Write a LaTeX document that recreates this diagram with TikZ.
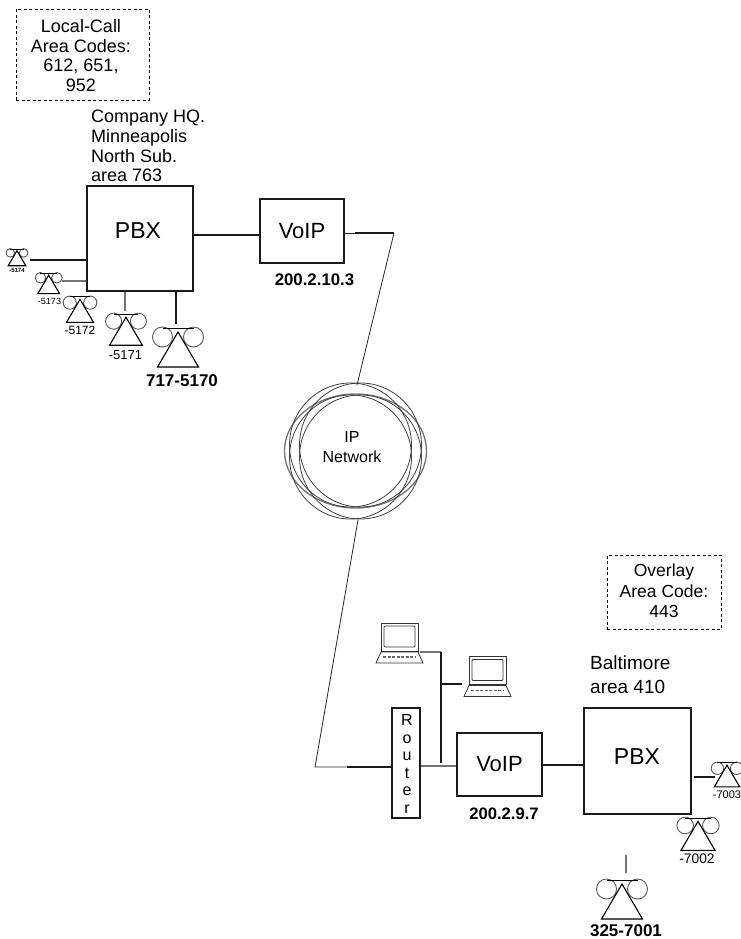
\documentclass[tikz,border=0pt]{standalone}
\usepackage{fontspec}
\setmainfont{Liberation Sans}
\newcommand{\fs}[1]{\fontsize{#1pt}{#1pt}\selectfont}
\newcommand{\fsl}[2]{\fontsize{#1pt}{#2pt}\selectfont}
\tikzset{
  x=1pt,y=-1pt,
  box/.style={draw=black!90,line width=1.8pt,rectangle,inner sep=0pt},
  note/.style={draw=black,line width=.9pt,dash pattern=on 3pt off 2.5pt,inner sep=0pt},
  wire/.style={draw=black!90,line width=1.8pt},
  fine/.style={draw=black!55,line width=1.1pt},
  hair/.style={draw=black!85,line width=.8pt},
  lab/.style={inner sep=0pt,align=center,text=black},
  ring/.style={draw=black!75,line width=.8pt},
  phonepic/.pic={
    \draw[black!65,line width=.9pt] (-15.5,9) circle[radius=10];
    \draw[black!65,line width=.9pt] (15.5,9) circle[radius=10];
    \draw[black,line width=1pt] (-15.5,0) -- (15.5,0);
    \filldraw[fill=white,draw=black,line width=1.1pt,line join=miter] (0,4) -- (20.5,39) -- (-20.5,39) -- cycle;
  },
  laptoppic/.pic={
    \draw[black!80,line width=.9pt,fill=white] (0,0) rectangle (37,28);
    \draw[black!80,line width=.8pt,rounded corners=1pt] (3,3) rectangle (34,24);
    \draw[black!80,line width=.8pt,fill=white] (0,29) -- (37,29) -- (42,40) -- (-5,40) -- cycle;
    \draw[black!60,line width=1.3pt,dash pattern=on 3pt off 1.5pt] (2,34) -- (35,34);
  },
}
\begin{document}
\begin{tikzpicture}
\useasboundingbox (0,0) rectangle (741,939);
\clip (0,0) rectangle (741,939);

% notes
\node[note,minimum width=133pt,minimum height=91pt] (noteA) at (82.5,54.5) {};
\node[lab,font=\fsl{18}{19.6}] (noteAt) at (81,55.5) {Local-Call\\Area Codes:\\612, 651,\\952};
\node[note,minimum width=114pt,minimum height=74pt] (noteB) at (664,592) {};
\node[lab,font=\fsl{17.5}{20.5}] (noteBt) at (664,591) {Overlay\\Area Code:\\443};

% captions
\node[lab,align=left,anchor=west,font=\fsl{18}{19.7}] (hq) at (91,146) {Company HQ.\\Minneapolis\\North Sub.\\area 763};
\node[lab,align=left,anchor=west,font=\fsl{19}{24}] (balt) at (590,675) {Baltimore\\area 410};

% boxes
\node[box,minimum width=106pt,minimum height=105pt] (pbxA) at (140,238.5) {};
\node[lab,font=\fs{23}] at (138,231) {PBX};
\node[box,minimum width=84pt,minimum height=64pt,font=\fs{22}] (voipA) at (302,231) {VoIP};
\node[lab,font=\bfseries\fs{16.8}] (ipA) at (314.5,280) {200.2.10.3};
\node[box,minimum width=85pt,minimum height=63pt,font=\fs{22}] (voipB) at (499.5,764.5) {VoIP};
\node[lab,font=\bfseries\fs{16.6}] (ipB) at (504,814) {200.2.9.7};
\node[box,minimum width=107pt,minimum height=106pt] (pbxB) at (637.5,761) {};
\node[lab,font=\fs{23}] at (637,757) {PBX};
\node[box,minimum width=28pt,minimum height=110pt] (router) at (406,763) {};
\node[lab,font=\fsl{16}{17.5}] at (407,764) {R\\o\\u\\t\\e\\r};

% IP network
\node[inner sep=0pt,minimum size=10pt] (net) at (355.5,451) {};
\draw[black!55,line width=1.3pt] (net) circle[x radius=71,y radius=57];
\draw[ring] ([shift={(-5,-6)}]net.center) circle[x radius=61,y radius=62];
\draw[ring] ([shift={(5,-6)}]net.center) circle[x radius=61,y radius=62];
\draw[ring] ([shift={(-5,6)}]net.center) circle[x radius=61,y radius=62];
\draw[ring] ([shift={(5,6)}]net.center) circle[x radius=61,y radius=62];
\node[lab,font=\fsl{16}{20}] (netl) at (352,447) {IP\\Network};

% network links
\coordinate (bendA) at (394,233);
\coordinate (netTop) at (357,385);
\coordinate (netBot) at (358,520);
\coordinate (bendB) at (315,767);
\coordinate (stubA) at (355,233);
\draw[hair] (voipA.east |- bendA) -- (stubA);
\draw[wire] (stubA) -- (bendA);
\draw[hair] (bendA) -- (netTop);
\draw[hair] (netBot) -- (bendB) -- (347,767);
\draw[wire] (347,767) -- (router.west |- bendB);
\coordinate (jB) at (441,766);
\draw[fine] (router.east |- jB) -- (voipB.west |- jB);
\coordinate (jA) at (193,235);
\draw[wire] (pbxA.east |- jA) -- (voipA.west |- jA);
\coordinate (jC) at (542,765);
\draw[wire] (voipB.east |- jC) -- (pbxB.west |- jC);

% laptops
\pic at (381,623) {laptoppic};
\pic at (469,656.5) {laptoppic};
\coordinate (lapA) at (420,652);
\coordinate (lapB) at (462,684);
\coordinate (busT) at (441,652);
\coordinate (busE) at (441,762.7);
\draw[fine] (lapA) -- (busT);
\draw[wire] (busT) -- (busE);
\draw[wire] (busT |- lapB) -- (lapB);

% phones
\pic[scale=.43] at (17,249) {phonepic};
\pic[scale=.53] at (48.7,273) {phonepic};
\pic[scale=.66] at (80,296.7) {phonepic};
\pic[scale=.8] at (126,314) {phonepic};
\pic at (178,328) {phonepic};
\pic[scale=.62] at (727,762.7) {phonepic};
\pic[scale=.83] at (698,818) {phonepic};
\pic at (622,880) {phonepic};

% phone wires
\coordinate (e5174) at (30,260);
\coordinate (e5173) at (62,281);
\coordinate (e5171) at (125,311);
\coordinate (e5170) at (176,324);
\coordinate (e7003) at (715,777);
\coordinate (s7003) at (694,777);
\coordinate (e7001a) at (626,855);
\coordinate (e7001b) at (626,873);
\draw[wire] (e5174) -- (pbxA.west |- e5174);
\draw[fine] (e5173) -- (pbxA.west |- e5173);
\draw[fine] (e5171) -- (e5171 |- pbxA.south);
\draw[wire] (e5170) -- (e5170 |- pbxA.south);
\draw[wire] (s7003) -- (e7003);
\draw[fine] (e7001a) -- (e7001b);

% phone labels
\node[lab,font=\bfseries\fs{6}] (l5174) at (17,270) {-5174};
\node[lab,font=\fs{9}] (l5173) at (49.5,301) {-5173};
\node[lab,font=\fs{12}] (l5172) at (80,330) {-5172};
\node[lab,font=\fs{13}] (l5171) at (125.5,355.5) {-5171};
\node[lab,font=\bfseries\fs{17}] (l5170) at (182,380.5) {717-5170};
\node[lab,font=\fs{11}] (l7003) at (727,795) {-7003};
\node[lab,font=\fs{13.8}] (l7002) at (697,858.5) {-7002};
\node[lab,font=\bfseries\fs{17}] (l7001) at (626,930.5) {325-7001};
\end{tikzpicture}
\end{document}
